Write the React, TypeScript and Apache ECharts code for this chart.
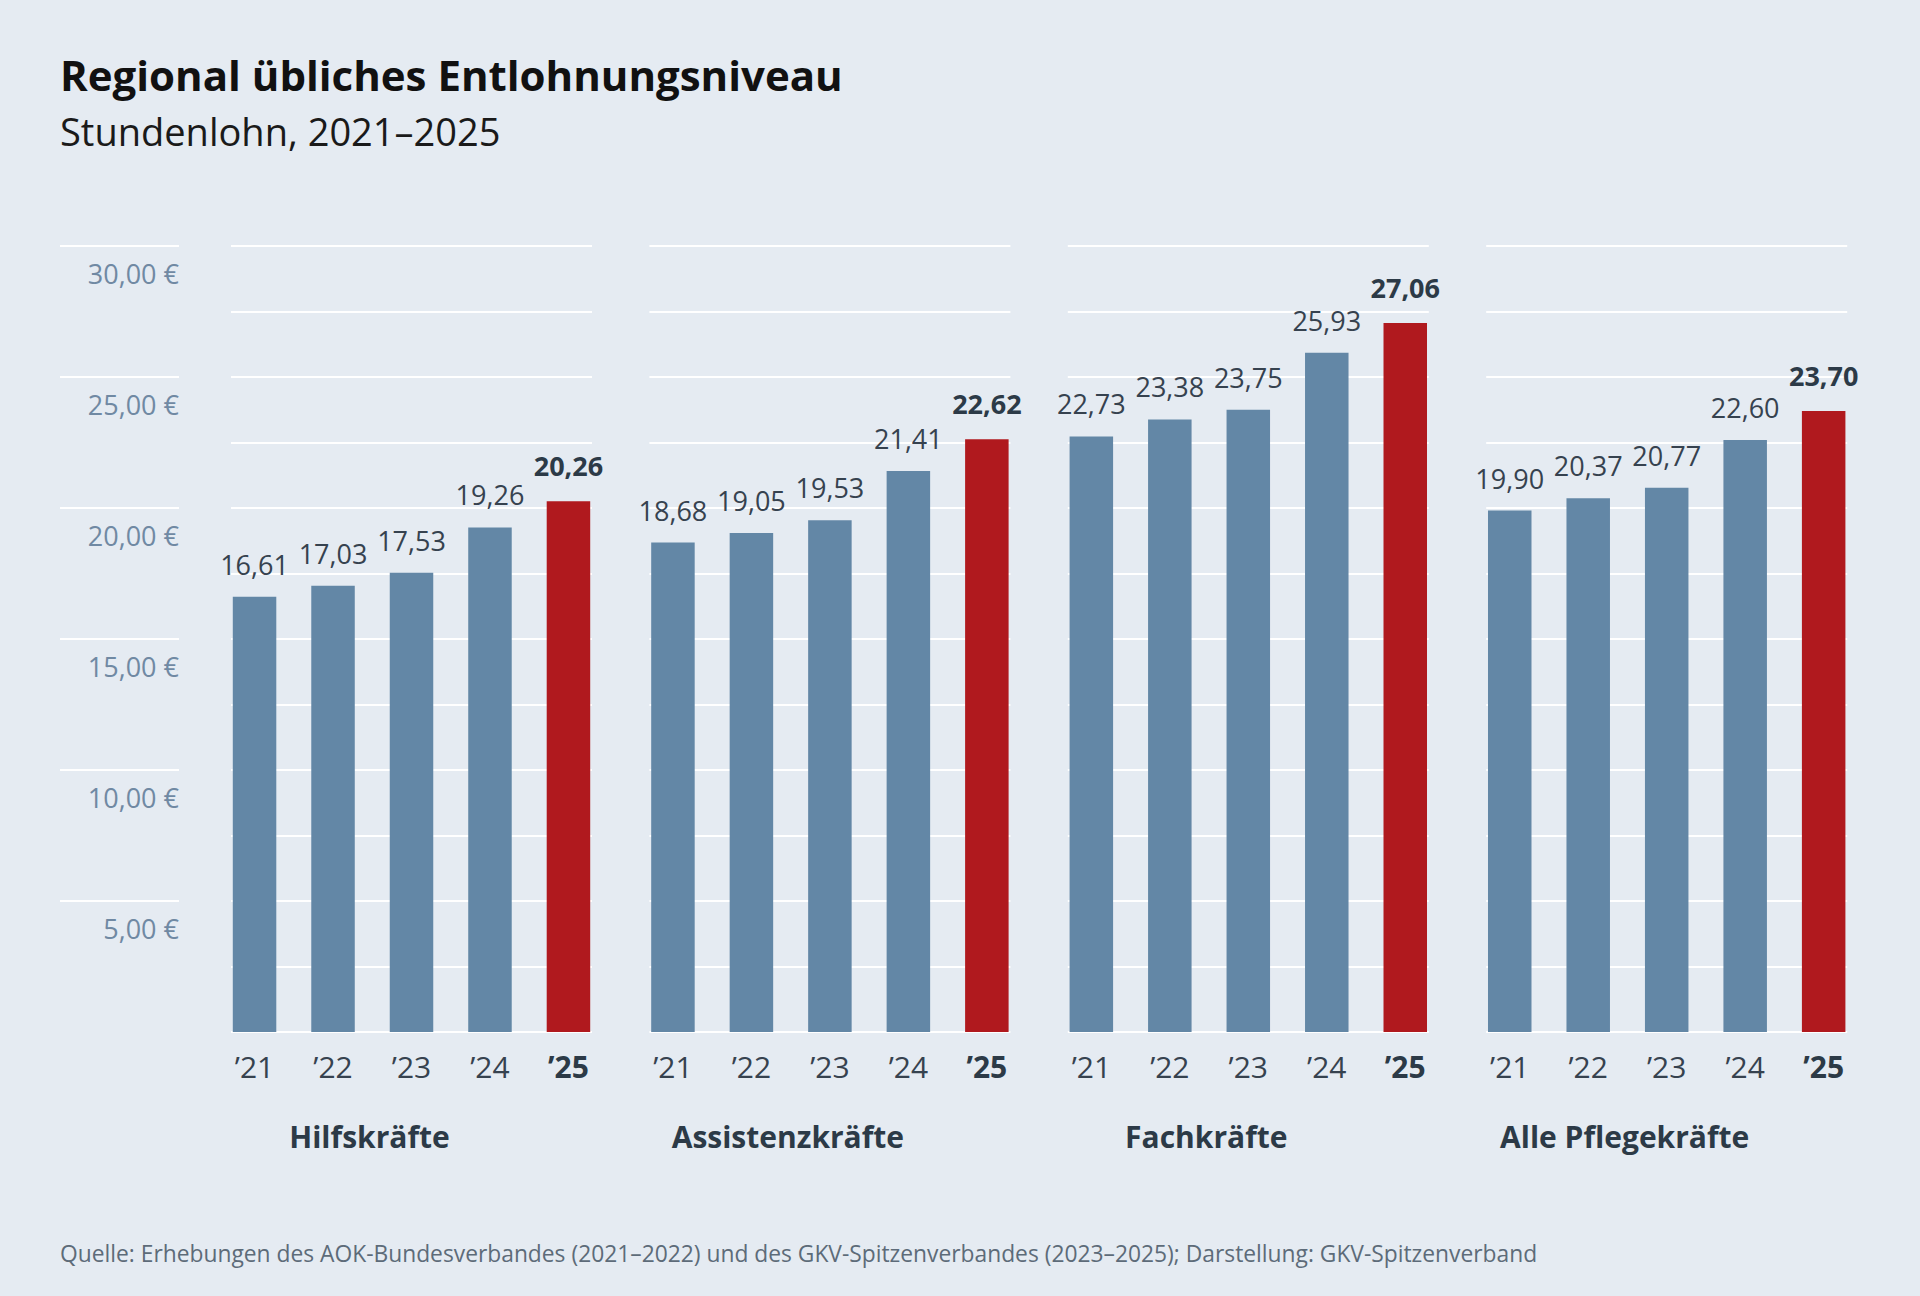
import React, { useEffect, useRef } from 'react';
import * as echarts from 'echarts';

const groups = ['Hilfskräfte', 'Assistenzkräfte', 'Fachkräfte', 'Alle Pflegekräfte'];
const years = ['’21', '’22', '’23', '’24', '’25'];
const hilfskraefte = [16.61, 17.03, 17.53, 19.26, 20.26];
const assistenzkraefte = [18.68, 19.05, 19.53, 21.41, 22.62];
const fachkraefte = [22.73, 23.38, 23.75, 25.93, 27.06];
const allePflegekraefte = [19.9, 20.37, 20.77, 22.6, 23.7];
const yMax = 30;
const yLabelStep = 5;
const yGridStep = 2.5;

const FONT = '"Open Sans", "Noto Sans", sans-serif';
const BG = '#e5ebf2';
const BLUE = '#6387a6';
const RED = '#b0191e';
const TEXT = '#36424f';
const TEXT_BOLD = '#2c3a47';
const AXIS_COLOR = '#7089a3';

const fmt = (v: number) => v.toFixed(2).replace('.', ',');

export default function App() {
  const ref = useRef<HTMLDivElement>(null);
  useEffect(() => {
    if (!ref.current) return;
    const chart = echarts.init(ref.current, undefined, { renderer: 'svg' });
    const values = [hilfskraefte, assistenzkraefte, fachkraefte, allePflegekraefte];
    const panelLeft = [231, 649.4, 1067.8, 1486.2];
    const panelWidth = 361;
    const top = 246;
    const bottom = 264;

    const grids: any[] = [{ left: 60, width: 119, top, bottom }];
    const xAxes: any[] = [{ gridIndex: 0, type: 'value', show: false, min: 0, max: 1 }];
    const yAxes: any[] = [
      {
        gridIndex: 0,
        type: 'value',
        position: 'right',
        min: 0,
        max: yMax,
        interval: yLabelStep,
        axisLine: { show: false },
        axisTick: { show: false },
        splitLine: { show: true, showMinLine: false, lineStyle: { color: '#ffffff', width: 2 } },
        axisLabel: {
          inside: true,
          margin: 0,
          showMinLabel: false,
          formatter: (v: number) => `{gap|}\n{v|${fmt(v)} €}`,
          rich: {
            gap: { height: 54, lineHeight: 54 },
            v: { fontFamily: FONT, fontSize: 27, color: AXIS_COLOR, height: 30, lineHeight: 30 },
          },
        },
      },
    ];
    const series: any[] = [];

    groups.forEach((g, i) => {
      grids.push({ left: panelLeft[i], width: panelWidth, top, bottom });
      xAxes.push({
        gridIndex: i + 1,
        type: 'value',
        min: -0.3,
        max: 4.3,
        axisLine: { show: false },
        axisTick: { show: false },
        splitLine: { show: false },
        axisLabel: {
          customValues: [0, 1, 2, 3, 4],
          margin: 19,
          fontFamily: FONT,
          fontSize: 30,
          color: TEXT,
          formatter: (v: number) => (v === 4 ? `{b|${years[v]}}` : years[v]),
          rich: { b: { fontFamily: FONT, fontSize: 30, fontWeight: 'bold', color: TEXT_BOLD } },
        },
        name: g,
        nameLocation: 'middle',
        nameGap: 89,
        nameTextStyle: {
          fontFamily: FONT,
          fontSize: 30,
          fontWeight: 'bold',
          color: TEXT_BOLD,
          padding: [0, 84, 0, 0],
        },
      });
      yAxes.push({
        gridIndex: i + 1,
        type: 'value',
        min: 0,
        max: yMax,
        interval: yGridStep,
        axisLine: { show: false },
        axisTick: { show: false },
        axisLabel: { show: false },
        splitLine: { show: true, lineStyle: { color: '#ffffff', width: 2 } },
      });
      series.push({
        type: 'bar',
        xAxisIndex: i + 1,
        yAxisIndex: i + 1,
        barWidth: 43.5,
        z: 3,
        data: values[i].map((v, j) => ({
          value: [j, v],
          itemStyle: { color: j === 4 ? RED : BLUE },
          label: j === 4 ? { fontWeight: 'bold', color: TEXT_BOLD, distance: 22 } : undefined,
        })),
        label: {
          show: true,
          position: 'top',
          distance: 19,
          fontFamily: FONT,
          fontSize: 27,
          color: TEXT,
          formatter: (p: any) => fmt(p.value[1]),
        },
      });
    });

    chart.setOption({
      animation: false,
      backgroundColor: BG,
      title: [
        {
          text: 'Regional übliches Entlohnungsniveau',
          left: 60,
          top: 53,
          padding: 0,
          textStyle: { fontFamily: FONT, fontSize: 42, fontWeight: 'bold', color: '#111111' },
        },
        {
          text: 'Stundenlohn, 2021–2025',
          left: 60,
          top: 112,
          padding: 0,
          textStyle: { fontFamily: FONT, fontSize: 38, fontWeight: 'normal', color: '#1a1a1a' },
        },
        {
          text: 'Quelle: Erhebungen des AOK-Bundesverbandes (2021–2022) und des GKV-Spitzenverbandes (2023–2025); Darstellung: GKV-Spitzenverband',
          left: 60,
          top: 1242,
          padding: 0,
          textStyle: { fontFamily: FONT, fontSize: 22.8, fontWeight: 'normal', color: '#5d6b79' },
        },
      ],
      grid: grids,
      xAxis: xAxes,
      yAxis: yAxes,
      series,
    });
    return () => chart.dispose();
  }, []);
  return (
    <div style={{ position: 'absolute', left: 0, top: 0, width: 1920, height: 1296, background: BG }}>
      <div ref={ref} style={{ width: 1920, height: 1296 }} />
    </div>
  );
}
